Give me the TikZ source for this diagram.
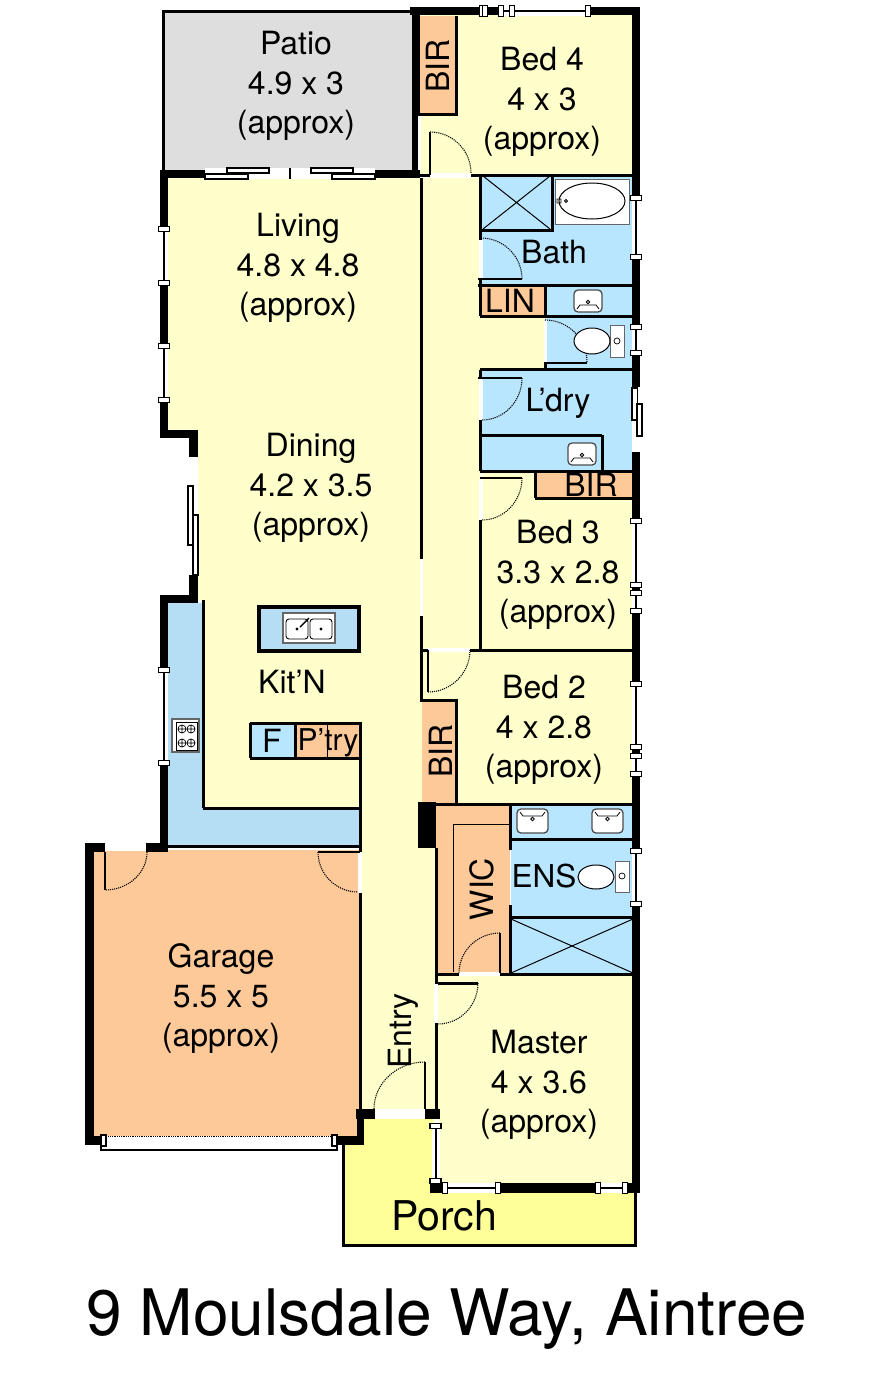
\documentclass[tikz,border=0pt]{standalone}
\usepackage{fontspec}
\setmainfont{TeX Gyre Heros}
\usetikzlibrary{calc}
\definecolor{roomyellow}{HTML}{FFFFCC}
\definecolor{wetblue}{HTML}{B9E6FF}
\definecolor{kitblue}{HTML}{B5DDF3}
\definecolor{robeorange}{HTML}{FDC998}
\definecolor{porchyellow}{HTML}{FFFF99}
\definecolor{patiogray}{HTML}{DEDEDE}
\tikzset{
  roomtext/.style={inner sep=0pt, align=center, font=\fontsize{32}{39.5}\selectfont},
  partition/.style={draw=black, line width=3pt},
  hairline/.style={draw=black, line width=1pt},
  swing/.style={draw=black, line width=1.1pt, densely dotted},
  marker/.style={draw=black, fill=white, line width=1.2pt},
}
% window in a wall, given by its wall position and both ends
\newcommand*{\vwin}[3]{
  \fill[white] (#1-4,#2) rectangle (#1+4,#3);
  \draw[black, line width=2pt] (#1,#2) -- (#1,#3);
  \foreach \m in {#2,#3}{\draw[marker] (#1-5.5,\m-2.5) rectangle (#1+5.5,\m+2.5);}
}
\newcommand*{\hwin}[3]{
  \fill[white] (#2,#1-5) rectangle (#3,#1+5);
  \draw[black, line width=2pt] (#2,#1) -- (#3,#1);
  \foreach \m in {#2,#3}{\draw[marker] (\m-2.5,#1-5.5) rectangle (\m+2.5,#1+5.5);}
}
% basin: centre, half width, half height, side of the tap (1 top, -1 bottom)
\newcommand*{\basin}[5]{
  \draw[fill=white, draw=black!70, line width=1.3pt, rounded corners=4pt] (#1-#3,#2-#4) rectangle (#1+#3,#2+#4);
  \draw[black, line width=0.8pt] (#1-#3+3,#2-#5*#4+#5*3) -- (#1-#3+6,#2-#5*#4+#5*7) -- (#1+#3-6,#2-#5*#4+#5*7) -- (#1+#3-3,#2-#5*#4+#5*3);
  \draw[black, fill=white, line width=0.8pt] (#1,#2-#5*#4+#5*10) circle (1.8);
}
\begin{document}
\begin{tikzpicture}[x=1pt, y=-1pt]
  \useasboundingbox (0,0) rectangle (885,1389);

  % room fills
  \fill[patiogray] (163,12) rectangle (412,170);
  \fill[roomyellow] (168,178) -- (480,178) -- (480,650) -- (422,650) -- (422,848) -- (436,848) -- (436,1109)
    -- (360,1109) -- (360,808) -- (203,808) -- (203,600) -- (198,600) -- (198,434) -- (168,434) -- cycle;
  \fill[roomyellow] (420,14) rectangle (634,175);
  \fill[roomyellow] (482,473) rectangle (634,650);
  \fill[roomyellow] (422,652) rectangle (634,803);
  \fill[roomyellow] (438,976) rectangle (634,1186);
  \fill[wetblue] (482,175) rectangle (634,472);
  \fill[roomyellow] (480,317) rectangle (545,369);
  \fill[wetblue] (511,806) rectangle (634,974);
  \fill[kitblue] (168,603) -- (203,603) -- (203,808) -- (360,808) -- (360,846) -- (168,846) -- cycle;
  \fill[robeorange] (94,850) rectangle (360,1136);
  \fill[robeorange] (436,805) rectangle (510,974);
  \fill[robeorange] (418,16) rectangle (455,114);
  \fill[robeorange] (422,700) rectangle (456,803);
  \fill[robeorange] (481,287) rectangle (544,316);
  \fill[robeorange] (535,473) rectangle (634,498);
  \fill[robeorange] (295,723) rectangle (359,758);
  \fill[wetblue] (250,723) rectangle (295,758);
  \fill[kitblue] (259,607) rectangle (359,651);
  \fill[porchyellow] (360,1119) -- (434,1119) -- (434,1192) -- (635,1192) -- (635,1245) -- (343,1245) -- (343,1143) -- (360,1143) -- cycle;
  \draw[partition] (635,1192) -- (635,1245) -- (343,1245) -- (343,1143);

  % thick walls
  \foreach \xa/\ya/\xb/\yb in {
    410/7/640/15, 412/7/420/176, 632/7/640/198, 160/170/420/178, 160/170/168/438, 160/430/198/438,
    189/430/198/457, 189/575/198/600, 160/595/198/603, 160/595/168/852, 85/843/105/852, 146/843/168/852,
    85/843/94/1145, 85/1136/101/1145, 337/1136/364/1145, 357/1109/364/1145, 356/1109/375/1119, 425/1109/440/1119,
    632/257/640/387, 632/452/640/1193, 418/802/436/848, 430/1183/640/1193}{
    \fill[black] (\xa,\ya) rectangle (\xb,\yb);
  }

  % patio outline and partitions
  \draw[partition] (412,12) -- (163,12) -- (163,170);
  \foreach \xa/\ya/\xb/\yb in {
    420/175/430/175, 471/175/634/175, 480/175/480/240, 480/279/480/316, 480/230/552/230, 552/175/552/232,
    478/285/634/285, 480/316/634/316, 545/285/545/318, 480/369/634/369, 545/362/545/370,
    480/370/480/378, 480/420/480/471, 480/435/602/435, 602/435/602/471, 480/471/634/471,
    535/471/535/498, 535/498/634/498, 480/520/480/650, 421/650/428/650, 470/650/634/650,
    456/16/456/114, 418/114/458/114, 422/700/458/700, 456/700/456/804, 420/804/634/804,
    203/600/203/808, 203/808/360/808, 360/722/360/852, 168/846/360/846, 360/893/360/1110,
    436/848/436/984, 436/1023/436/1110, 510/804/510/850, 510/905/510/975, 510/839/634/839,
    510/917/634/917, 436/974/459/974, 500/974/634/974, 436/983/478/983,
    250/723/359/723, 250/758/359/758, 250/723/250/758, 295/723/295/758}{
    \draw[partition] (\xa,\ya) -- (\xb,\yb);
  }
  \draw[partition, line width=4pt] (259,607) rectangle (359,651);
  \draw[partition] (421,178) -- (421,559) (421,616) -- (421,702);
  \draw[hairline] (453,972) -- (453,824) -- (510,824) (327,725) -- (327,757);
  \draw[hairline] (483,176) -- (550,229) (550,176) -- (483,229) (511,919) -- (633,973) (633,919) -- (511,973);

  % door openings
  \foreach \xa/\ya/\xb/\yb in {
    430/173/471/177, 479/240/483/279, 544/320/547/362, 479/380/483/420, 479/480/483/520, 428/648/470/652,
    105/843/146/851, 358/853/362/893, 459/972/500/976, 434/984/438/1023, 375/1109/425/1119, 419.5/559/422.5/616,
    189/457/198/486}{
    \fill[white] (\xa,\ya) rectangle (\xb,\yb);
  }
  \fill[white] (418,116) rectangle (421,170);
  \foreach \xa/\ya/\xb/\yb in {430/132/430/175, 478/279/522/279, 545/363/587/363, 478/378/522/378, 480/478/522/478, 428/650/428/692,
    500/933/500/973, 105/852/105/890, 425/1062/425/1109, 318/852/360/852}{
    \draw[line width=1.6pt] (\xa,\ya) -- (\xb,\yb);
  }
  \foreach \a/\c/\b in {430/132/471, 481/238/522, 545/320/587}{
    \pgfmathsetmacro{\e}{\c+\b-\a}
    \draw[swing] (\a,\c) .. controls ($(\a,\c)!0.55!(\b,\c)$) and ($(\b,\e)!0.55!(\b,\c)$) .. (\b,\e);
  }
  \foreach \xa/\ya/\xc/\yc/\xb/\yb in {
    522/378/522/420/482/420, 522/478/522/520/482/520, 470/650/470/692/428/692, 500/933/459/933/459/973,
    478/983/478/1024/438/1024, 425/1062/374/1062/374/1109, 318/852/318/892/358/892, 147/852/147/890/105/890}{
    \draw[swing] (\xa,\ya) .. controls ($(\xa,\ya)!0.55!(\xc,\yc)$) and ($(\xb,\yb)!0.55!(\xc,\yc)$) .. (\xb,\yb);
  }

  % windows and sliders
  \vwin{636}{198}{257} \vwin{636}{327}{353} \vwin{636}{521}{585} \vwin{636}{593}{611}
  \vwin{636}{684}{747} \vwin{636}{756}{774} \vwin{636}{851}{904}
  \vwin{164}{229}{283} \vwin{164}{346}{400} \vwin{164}{670}{763} \vwin{435.5}{1126}{1181}
  \hwin{11}{482}{485} \hwin{11}{501}{512} \hwin{11}{512}{588}
  \hwin{1188}{445}{498} \hwin{1188}{598}{625}
  \fill[white] (632,388) rectangle (640,452);
  \draw[marker] (632,388) rectangle (637.5,420);
  \draw[marker] (637,404) rectangle (642,436);
  \draw[marker] (188,486) rectangle (193,545);
  \draw[marker] (193,515) rectangle (198,575);
  \fill[white] (205,168) rectangle (375,179);
  \foreach \xa/\ya/\xb/\yb in {205/174/248/179, 227/168/269/173, 311/168/353/173, 332/174/375/179}{
    \draw[marker] (\xa,\ya) rectangle (\xb,\yb);
  }
  \draw[line width=1.2pt] (290,168) -- (290,179);
  \fill[white] (101,1137) rectangle (337,1149);
  \draw[line width=1.5pt] (101,1145) -- (101,1150) -- (337,1150) -- (337,1145);
  \draw[line width=0.8pt, densely dotted] (101,1136) -- (337,1136);
  \draw[marker] (101,1135) rectangle (106,1146);
  \draw[marker] (332,1135) rectangle (337,1146);

  % fittings
  \draw[fill=white, draw=black!60, line width=1pt] (555,179) rectangle (629,224);
  \draw[line width=1pt] (592,201) ellipse (33 and 18);
  \draw[line width=0.8pt] (566,201) circle (1.5) (557,199) rectangle (561,203);
  \basin{588}{301}{14}{11}{-1}
  \basin{582}{454}{14}{11}{-1}
  \basin{532.5}{821}{15.5}{12}{1}
  \basin{607.5}{821}{15.5}{12}{1}
  \draw[fill=white, draw=black!60, line width=1pt] (610,325) rectangle (624,357);
  \draw[fill=white, line width=1pt] (592,341) ellipse (18 and 13);
  \draw[line width=0.7pt] (617,341) circle (3);
  \draw[fill=white, draw=black!60, line width=1pt] (615,861) rectangle (629,892);
  \draw[fill=white, line width=1pt] (596,877) ellipse (18 and 12);
  \draw[line width=0.7pt] (622,876) circle (3);
  \draw[fill=white, draw=black!60, line width=1.2pt] (283,613) rectangle (335,643);
  \draw[line width=0.9pt, rounded corners=3pt] (286,619) rectangle (308,639) (310,619) rectangle (332,639);
  \foreach \px in {297,321}{\fill[black] (\px,629) circle (1.6);}
  \draw[line width=1.4pt] (300,627) -- (309,618);
  \draw[fill=white, draw=black!60, line width=1.4pt] (172,719) rectangle (199,752);
  \draw[line width=0.7pt] (176,722) rectangle (197,750);
  \foreach \px in {182,191}{
    \foreach \py in {729,743}{
      \draw[line width=0.7pt] (\px,\py) circle (4) (\px-4,\py) -- (\px+4,\py) (\px,\py-4) -- (\px,\py+4);
    }
  }

  % room labels
  \node[roomtext] (patio) at (296,86) {Patio\\4.9 x 3\\(approx)};
  \node[roomtext] (bedfour) at (542,102) {Bed 4\\4 x 3\\(approx)};
  \node[roomtext] (living) at (298,268) {Living\\4.8 x 4.8\\(approx)};
  \node[roomtext] (dining) at (311,488) {Dining\\4.2 x 3.5\\(approx)};
  \node[roomtext] (bedthree) at (558,575) {Bed 3\\3.3 x 2.8\\(approx)};
  \node[roomtext] (bedtwo) at (544,730) {Bed 2\\4 x 2.8\\(approx)};
  \node[roomtext] (master) at (539,1085) {Master\\4 x 3.6\\(approx)};
  \node[roomtext] (garage) at (221,999) {Garage\\5.5 x 5\\(approx)};
  \node[roomtext] (bath) at (554,252) {Bath};
  \node[roomtext] (lin) at (510,301) {LIN};
  \node[roomtext] (laundry) at (558,403) {L’dry};
  \node[roomtext] (kit) at (292,682) {Kit’N};
  \node[roomtext] (fridge) at (272,741) {F};
  \node[roomtext, font=\fontsize{30}{30}\selectfont] (pantry) at (328,743) {P’try};
  \node[roomtext, font=\fontsize{31.5}{31.5}\selectfont] (ens) at (544,876) {ENS};
  \node[roomtext, rotate=90] (birfour) at (438,66) {BIR};
  \node[roomtext] (birthree) at (591,485) {BIR};
  \node[roomtext, rotate=90] (birtwo) at (441,751) {BIR};
  \node[roomtext, rotate=90] (wic) at (482,889) {WIC};
  \node[roomtext, rotate=90] (entry) at (403,1031) {Entry};
  \node[roomtext, font=\fontsize{41}{41}\selectfont] (porch) at (444,1216) {Porch};
  \node[roomtext, font=\fontsize{64.1}{64.1}\selectfont] (title) at (447,1319) {9 Moulsdale Way, Aintree};
\end{tikzpicture}
\end{document}
